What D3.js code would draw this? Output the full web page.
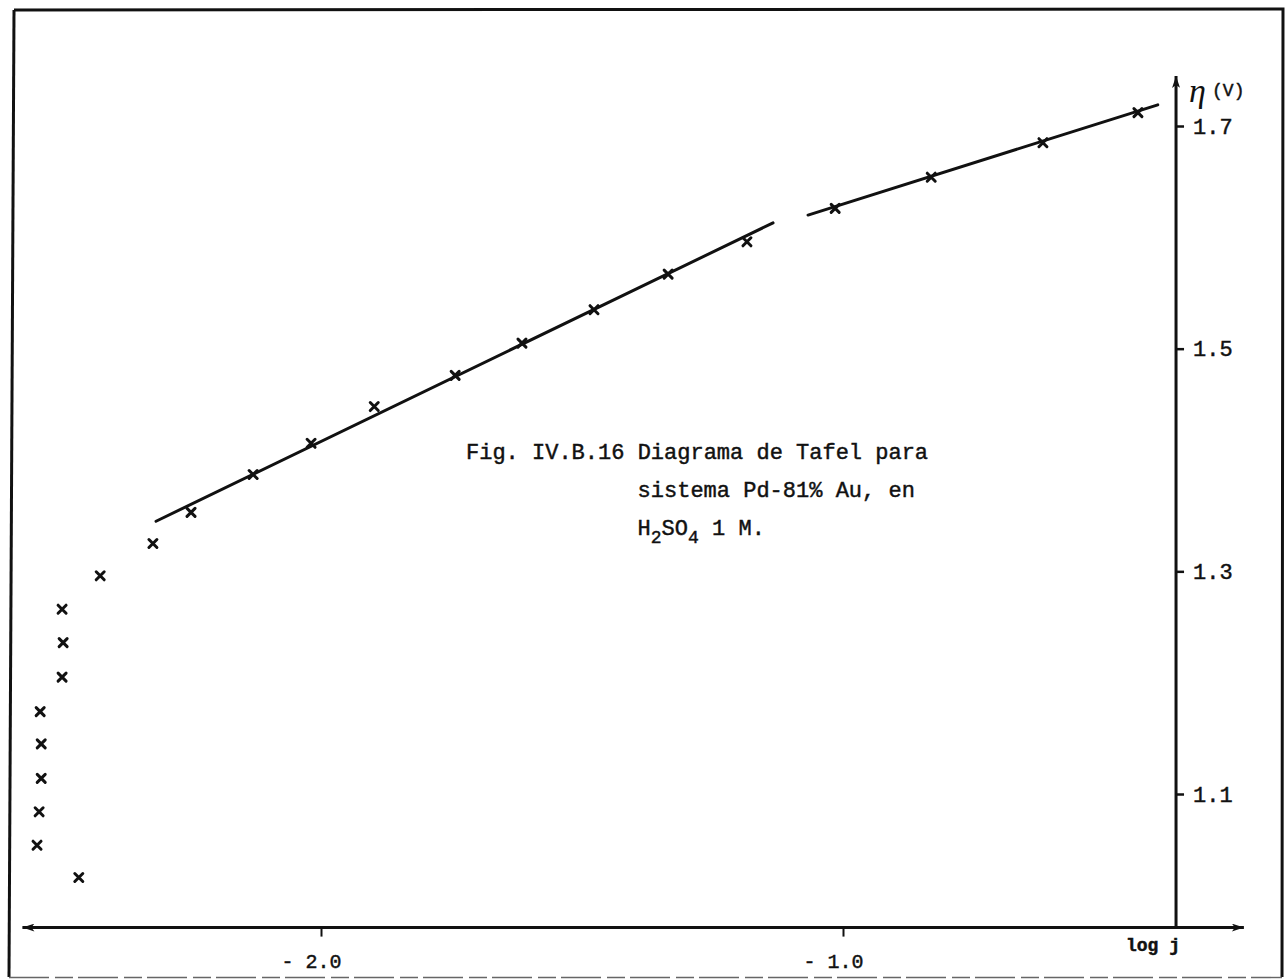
<!DOCTYPE html>
<html>
<head>
<meta charset="utf-8">
<script src="https://cdn.jsdelivr.net/npm/d3@7"></script>
<style>
  html, body { margin: 0; padding: 0; background: #fff; }
  svg { display: block; }
  .tw { font-family: "Liberation Mono", "DejaVu Sans Mono", monospace; fill: #111; stroke: #111; stroke-width: 0.45px; }
</style>
</head>
<body>
<svg id="chart" width="1287" height="979"></svg>
<script>
// Tafel data: log j (current density) vs overpotential eta (V)
const logJ = [-2.464, -2.544, -2.540, -2.536, -2.536, -2.538, -2.496, -2.494, -2.496,
              -2.423, -2.322, -2.249, -2.130, -2.019, -1.898, -1.743, -1.615, -1.477,
              -1.335, -1.184, -1.015, -0.831, -0.617, -0.435];
const eta  = [1.025, 1.054, 1.084, 1.114, 1.145, 1.174, 1.205, 1.236, 1.266,
              1.296, 1.325, 1.353, 1.387, 1.415, 1.448, 1.476, 1.505, 1.535,
              1.567, 1.596, 1.626, 1.654, 1.685, 1.712];

// Two Tafel regions, fitted straight lines [log j, eta]
const fitLow  = [[-2.316, 1.345], [-1.134, 1.613]];
const fitHigh = [[-1.067, 1.620], [-0.397, 1.719]];

const xTicks = [-2.0, -1.0];
const yTicks = [1.1, 1.3, 1.5, 1.7];

// Axis extents in data units
const xAxisSpan = [-2.572, -0.232];   // horizontal axis, arrow at both ends
const yAxisSpan = [0.980, 1.745];     // vertical axis, arrow on top
const xAxisAtEta = 0.980;
const yAxisAtLogJ = -0.362;

const captionLines = ["Fig. IV.B.16 Diagrama de Tafel para", "sistema Pd-81% Au, en"];

const svg = d3.select("#chart");

const x = d3.scaleLinear().domain([-2.0, -1.0]).range([321, 843]);
const y = d3.scaleLinear().domain([1.1, 1.7]).range([794, 126]);

// Frame around the figure
svg.append("path")
  .attr("d", "M14,10 L1283,9 L1282,977")
  .attr("fill", "none").attr("stroke", "#111").attr("stroke-width", 3);
svg.append("path")
  .attr("d", "M14,10 L9,977")
  .attr("fill", "none").attr("stroke", "#111").attr("stroke-width", 3);
svg.append("path")
  .attr("d", "M9,977.5 L1282,977.5")
  .attr("fill", "none").attr("stroke", "#666").attr("stroke-width", 1.4)
  .attr("stroke-dasharray", "40 6 18 5");

// Arrowhead
const defs = svg.append("defs");
defs.append("marker")
  .attr("id", "arrow")
  .attr("viewBox", "0 0 12 8")
  .attr("refX", 12).attr("refY", 4)
  .attr("markerWidth", 13).attr("markerHeight", 8)
  .attr("markerUnits", "userSpaceOnUse")
  .attr("orient", "auto-start-reverse")
  .append("path").attr("d", "M0,0 L12,4 L0,8 L3,4 Z").attr("fill", "#111");

const ax = svg.append("g");

// Horizontal axis (log j)
ax.append("line")
  .attr("x1", x(xAxisSpan[0])).attr("x2", x(xAxisSpan[1]))
  .attr("y1", y(xAxisAtEta)).attr("y2", y(xAxisAtEta))
  .attr("stroke", "#111").attr("stroke-width", 3)
  .attr("marker-start", "url(#arrow)").attr("marker-end", "url(#arrow)");

// Vertical axis (eta)
ax.append("line")
  .attr("x1", x(yAxisAtLogJ)).attr("x2", x(yAxisAtLogJ))
  .attr("y1", y(yAxisSpan[0])).attr("y2", y(yAxisSpan[1]))
  .attr("stroke", "#111").attr("stroke-width", 3)
  .attr("marker-end", "url(#arrow)");

// x ticks and labels
const xAxis = d3.axisBottom(x)
  .tickValues(xTicks)
  .tickSize(9)
  .tickPadding(17)
  .tickFormat(d => "- " + Math.abs(d).toFixed(1));
const gx = svg.append("g")
  .attr("transform", `translate(0,${y(xAxisAtEta)})`)
  .call(xAxis);
gx.select(".domain").remove();
gx.selectAll(".tick line").attr("stroke", "#111").attr("stroke-width", 2);
gx.selectAll(".tick text")
  .attr("class", "tw").attr("font-size", 20).attr("dx", -10)
  .attr("font-family", null);

// y ticks and labels
const yAxis = d3.axisRight(y)
  .tickValues(yTicks)
  .tickSize(8)
  .tickPadding(9)
  .tickFormat(d3.format(".1f"));
const gy = svg.append("g")
  .attr("transform", `translate(${x(yAxisAtLogJ)},0)`)
  .call(yAxis);
gy.select(".domain").remove();
gy.selectAll(".tick line").attr("stroke", "#111").attr("stroke-width", 2.5);
gy.selectAll(".tick text")
  .attr("class", "tw").attr("font-size", 22)
  .attr("font-family", null).attr("text-anchor", "start");

// Axis titles
svg.append("text")
  .attr("x", x(yAxisAtLogJ) + 13).attr("y", y(1.7) - 24)
  .attr("font-family", "'Liberation Serif', serif").attr("font-style", "italic")
  .attr("font-size", 34).attr("fill", "#111")
  .text("η");
svg.append("text").attr("class", "tw")
  .attr("x", x(yAxisAtLogJ) + 36).attr("y", y(1.7) - 30)
  .attr("font-size", 18)
  .text("(V)");
svg.append("text").attr("class", "tw")
  .attr("x", x(yAxisAtLogJ) + 4).attr("y", y(xAxisAtEta) + 23)
  .attr("text-anchor", "end").attr("font-size", 18).attr("font-weight", "bold")
  .text("log j");

// Fitted Tafel lines
const line = d3.line().x(d => x(d[0])).y(d => y(d[1]));
[fitLow, fitHigh].forEach(seg => {
  svg.append("path")
    .attr("d", line(seg))
    .attr("fill", "none").attr("stroke", "#111")
    .attr("stroke-width", 3).attr("stroke-linecap", "round");
});

// Measured points, drawn as small crosses
const pts = logJ.map((v, i) => [v, eta[i]]);
svg.append("g").selectAll("path.pt")
  .data(pts).join("path")
  .attr("class", "pt")
  .attr("transform", d => `translate(${x(d[0])},${y(d[1])})`)
  .attr("d", "M-4,-4L4,4M-4,4L4,-4")
  .attr("stroke", "#111").attr("stroke-width", 3).attr("stroke-linecap", "round")
  .attr("fill", "none");

// Caption (typewritten)
const capX = 466, capY = 459, lead = 38, cell = 13.2;
const cap = svg.append("g").attr("font-size", 22);
cap.append("text").attr("class", "tw")
  .attr("x", capX).attr("y", capY).text(captionLines[0]);
cap.append("text").attr("class", "tw")
  .attr("x", capX + 13 * cell).attr("y", capY + lead).text(captionLines[1]);
const l3 = cap.append("text").attr("class", "tw")
  .attr("x", capX + 13 * cell).attr("y", capY + 2 * lead);
l3.append("tspan").text("H");
l3.append("tspan").attr("font-size", 18).attr("dy", 8).text("2");
l3.append("tspan").attr("dy", -8).text("SO");
l3.append("tspan").attr("font-size", 18).attr("dy", 8).text("4");
l3.append("tspan").attr("dy", -8).text(" 1 M.");
</script>
</body>
</html>
